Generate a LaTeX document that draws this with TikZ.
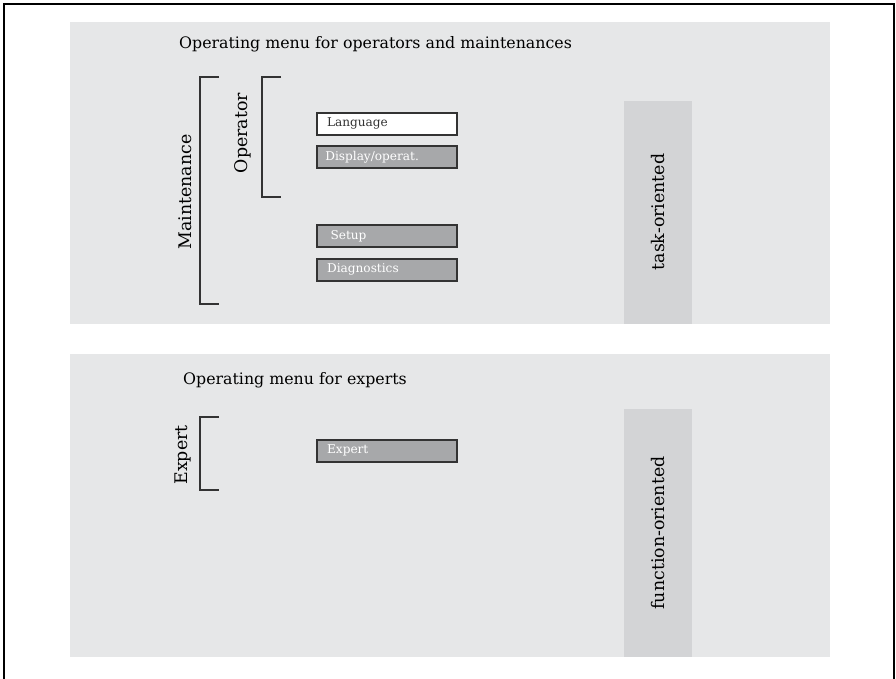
\documentclass[tikz,border=0pt]{standalone}
\usepackage{fontspec}
\setmainfont{DejaVu Serif}
\usepackage{tikz}
\usetikzlibrary{positioning}

\definecolor{panelgray}{HTML}{E6E7E8}
\definecolor{stripgray}{HTML}{D3D4D6}
\definecolor{boxgray}{HTML}{A7A8AA}
\definecolor{edgegray}{HTML}{333333}

\tikzset{
  panel/.style={fill=panelgray, draw=none},
  strip/.style={fill=stripgray, draw=none},
  menubox/.style={draw=edgegray, line width=0.9pt, fill=boxgray, text=white, font=\fontsize{6.9}{8}\selectfont,
    minimum width=2.8cm, minimum height=0.44cm, text width=2.6cm, align=left, inner sep=0pt, anchor=north west},
  heading/.style={font=\fontsize{9}{11}\selectfont, anchor=west, text=black},
  sidelabel/.style={font=\fontsize{9.9}{12}\selectfont, rotate=90, text=black},
  bracket/.style={draw=black!80, line width=0.6pt}
}

\begin{document}
\begin{tikzpicture}[x=0.02cm, y=-0.02cm]
  \useasboundingbox (0,0) rectangle (896,679);

  % outer frame, open at the bottom
  \draw[line width=1pt] (4,679) -- (4,4) -- (894,4) -- (894,679);

  % Operators and maintenances panel
  \fill[panel] (70,22) rectangle (830,324);
  \fill[strip] (624,101) rectangle (692,324);
  \node[sidelabel] (task) at (658,212) {task-oriented};
  \node[heading] (ophead) at (173,44) {Operating menu for operators and maintenances};

  \draw[bracket] (219,77) -- (200,77) -- (200,304) -- (219,304);
  \node[sidelabel] (maint) at (185,192) {Maintenance};
  \draw[bracket] (281,77) -- (262,77) -- (262,197) -- (281,197);
  \node[sidelabel] (oper) at (243,133) {Operator};

  \node[menubox, fill=white, text=black!80] (lang) at (316,112) {\hspace*{3pt}Language};
  \node[menubox] (disp) at (316,145) {\hspace*{2pt}Display/operat.};
  \node[menubox] (setup) at (316,224) {\hspace*{5pt}Setup};
  \node[menubox] (diag) at (316,258) {\hspace*{3pt}Diagnostics};

  % Experts panel
  \fill[panel] (70,354) rectangle (830,657);
  \fill[strip] (624,409) rectangle (692,657);
  \node[sidelabel] (func) at (658,533) {function-oriented};
  \node[heading] (exhead) at (177,380) {Operating menu for experts};

  \draw[bracket] (219,417) -- (200,417) -- (200,490) -- (219,490);
  \node[sidelabel] (expl) at (183,455) {Expert};

  \node[menubox] (expert) at (316,439) {\hspace*{3pt}Expert};
\end{tikzpicture}
\end{document}
